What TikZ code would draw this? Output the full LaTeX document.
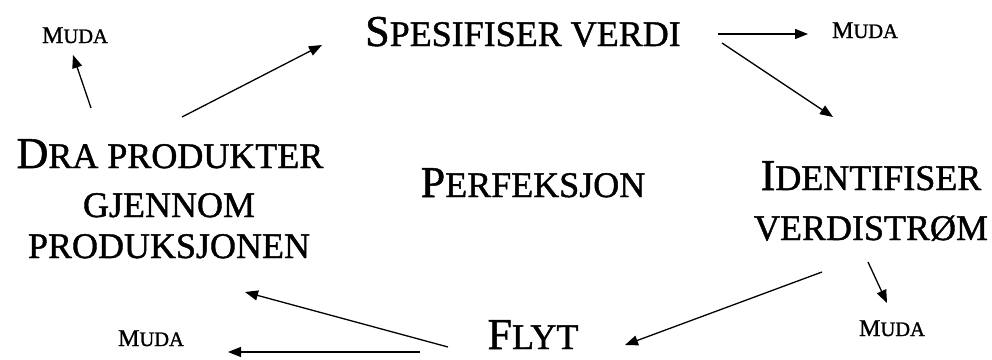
\documentclass[tikz,border=0pt]{standalone}
\usepackage{fontspec}
\setmainfont{Liberation Serif}
\newfontfamily\trj{Liberation Serif}[FakeBold=1.2]
\usetikzlibrary{arrows.meta}
\newcommand\lgcap[1]{{\fontsize{44}{48}\selectfont #1}}
\newcommand\smlcap[1]{{\fontsize{36}{40}\selectfont #1}}
\newcommand\mudatext{{\fontsize{24}{26}\selectfont M}{\fontsize{20.5}{24}\selectfont UDA}}
\tikzset{
  lbl/.style={anchor=base, inner sep=0pt, text=black, font=\trj},
  arr/.style={draw=black, line width=1.3pt, -{Triangle[length=13pt,width=10pt]}},
}
\begin{document}
\begin{tikzpicture}[x=1pt,y=-1pt]
\useasboundingbox (0,0) rectangle (992,359);
\fill[white] (0,0) rectangle (992,359);
% nodes
\node[lbl] (spes) at (523,46) {\lgcap{S}\smlcap{PESIFISER VERDI}};
\node[lbl] (mudaTL) at (75,43) {\mudatext};
\node[lbl] (mudaTR) at (865,38) {\mudatext};
\node[lbl] (dra1) at (170,168) {\lgcap{D}\smlcap{RA PRODUKTER}};
\node[lbl] (dra2) at (169,217) {\smlcap{GJENNOM}};
\node[lbl] (dra3) at (169,258) {\smlcap{PRODUKSJONEN}};
\node[lbl] (perf) at (533,197) {\lgcap{P}\smlcap{ERFEKSJON}};
\node[lbl] (ident1) at (871,190) {\lgcap{I}\smlcap{DENTIFISER}};
\node[lbl] (ident2) at (871,240) {\smlcap{VERDISTRØM}};
\node[lbl] (flyt) at (533,349) {\lgcap{F}\smlcap{LYT}};
\node[lbl] (mudaBL) at (151,346) {\mudatext};
\node[lbl] (mudaBR) at (892,336) {\mudatext};
% connectors
\draw[arr] ([shift={(12,-51)}]dra1.base) -- ([shift={(-201,-1)}]spes.base);
\draw[arr] ([shift={(-79,-60)}]dra1.base) -- ([shift={(-2,12)}]mudaTL.base);
\draw[arr] ([shift={(195,-12)}]spes.base) -- ([shift={(-57,-4)}]mudaTR.base);
\draw[arr] ([shift={(199,-3)}]spes.base) -- ([shift={(-38,-73)}]ident1.base);
\draw[arr] ([shift={(-49,32)}]ident2.base) -- ([shift={(92,-4)}]flyt.base);
\draw[arr] ([shift={(-3,22)}]ident2.base) -- ([shift={(-5,-33)}]mudaBR.base);
\draw[arr] ([shift={(-85,-2)}]flyt.base) -- ([shift={(76,34)}]dra3.base);
\draw[arr] ([shift={(-113,3)}]flyt.base) -- ([shift={(77,6)}]mudaBL.base);
\end{tikzpicture}
\end{document}
